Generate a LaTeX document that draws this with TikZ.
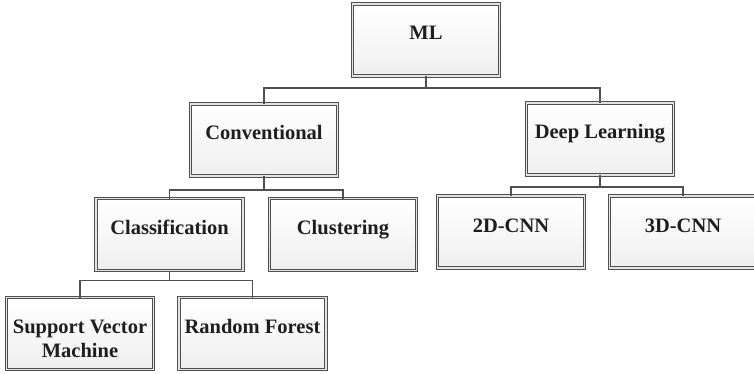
\documentclass[tikz,border=0pt]{standalone}
\usepackage{fontspec}
\setmainfont{Liberation Serif}
\usetikzlibrary{shadows}
\definecolor{edge}{HTML}{505050}
\definecolor{ink}{HTML}{1E1E1E}
\tikzset{
  box/.style={draw=edge, line width=0.9pt, double=gray!22, double distance=1.3pt,
    top color=white, bottom color=gray!13, minimum width=147pt, minimum height=72pt,
    inner sep=0pt, outer sep=0pt,
    drop shadow={opacity=0.25, shadow xshift=1.5pt, shadow yshift=-1.5pt}},
  lbl/.style={anchor=base, inner sep=0pt, align=center, text=ink,
    font=\bfseries\fontsize{20.5}{24}\selectfont},
  conn/.style={draw=edge, line width=1.1pt}
}
\begin{document}
\begin{tikzpicture}[x=1pt, y=-1pt]
\useasboundingbox (0,0) rectangle (754,374);
% boxes
\node[box] (ml)   at (426,40)    {};
\node[box] (conv) at (264,140)   {};
\node[box] (dl)   at (600,139)   {};
\node[box] (cls)  at (169.5,234.5) {};
\node[box] (clu)  at (343,234.5) {};
\node[box] (cnn2) at (511,232)   {};
\node[box] (cnn3) at (683,232)   {};
\node[box] (svm)  at (80,333.5)  {};
\node[box] (rf)   at (252.5,333.5) {};
% labels (baseline of the last line is the base anchor)
\node[lbl] (tml)   at ([yshift=-36pt]ml.north)   {ML};
\node[lbl] (tconv) at ([yshift=-36pt]conv.north) {Conventional};
\node[lbl] (tdl)   at ([yshift=-36pt]dl.north)   {Deep Learning};
\node[lbl] (tcls)  at ([yshift=-36pt]cls.north)  {Classification};
\node[lbl] (tclu)  at ([yshift=-36pt]clu.north)  {Clustering};
\node[lbl] (tcnn2) at ([yshift=-36pt]cnn2.north) {2D-CNN};
\node[lbl] (tcnn3) at ([yshift=-36pt]cnn3.north) {3D-CNN};
\node[lbl] (tsvm)  at ([yshift=-60pt]svm.north)  {Support Vector\\Machine};
\node[lbl] (trf)   at ([yshift=-36pt]rf.north)   {Random Forest};
% connectors
\draw[conn] (ml.south) -- ++(0,12) -| (conv.north);
\draw[conn] (ml.south) -- ++(0,12) -| (dl.north);
\draw[conn] (conv.south) -- ++(0,14) -| (cls.north);
\draw[conn] (conv.south) -- ++(0,14) -| (clu.north);
\draw[conn] (dl.south) -- ++(0,12) -| (cnn2.north);
\draw[conn] (dl.south) -- ++(0,12) -| (cnn3.north);
\draw[conn] (cls.south) -- ++(0,10) -| (svm.north);
\draw[conn] (cls.south) -- ++(0,10) -| (rf.north);
\end{tikzpicture}
\end{document}
